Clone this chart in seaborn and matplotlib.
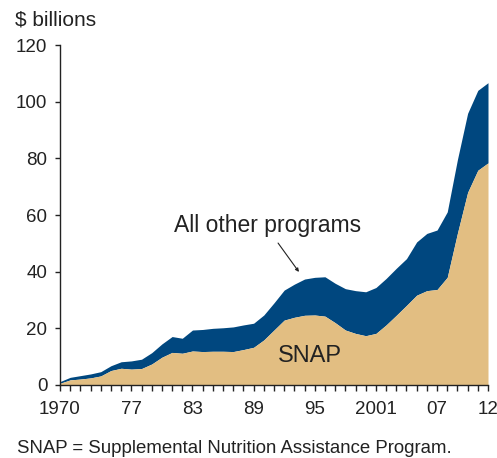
import matplotlib
matplotlib.use("Agg")
import matplotlib.pyplot as plt
import seaborn as sns
import pandas as pd
import numpy as np

# ---- data ($ billions, fiscal years) ----
years = list(range(1970, 2013))
snap = [0.6, 1.8, 2.1, 2.5, 3.2, 5.1, 5.9, 5.6, 5.8, 7.4,
        9.8, 11.5, 11.2, 12.0, 11.8, 11.9, 11.9, 11.8, 12.5, 13.3,
        15.9, 19.4, 22.9, 23.9, 24.6, 24.7, 24.3, 22.0, 19.4, 18.2,
        17.4, 18.2, 21.2, 24.6, 28.1, 31.7, 33.3, 33.7, 38.0, 53.6,
        68.0, 75.8, 78.4]
total = [1.2, 2.7, 3.3, 3.9, 4.7, 6.8, 8.2, 8.5, 9.1, 11.4,
         14.5, 17.1, 16.5, 19.4, 19.6, 20.0, 20.2, 20.5, 21.2, 21.8,
         24.7, 29.0, 33.5, 35.6, 37.4, 38.0, 38.2, 35.9, 34.0, 33.3,
         32.9, 34.4, 37.6, 41.2, 44.6, 50.5, 53.5, 54.7, 61.1, 79.6,
         95.9, 104.0, 106.7]
tick_years = [1970, 1977, 1983, 1989, 1995, 2001, 2007, 2012]
tick_labels = ["1970", "77", "83", "89", "95", "2001", "07", "12"]

df = pd.DataFrame({"year": years, "SNAP": snap, "Total": total})

sns.set_theme(style="ticks")
plt.rcParams["font.family"] = ["Liberation Sans", "DejaVu Sans"]

tan = "#E2BE82"
blue = "#00477F"
ink = "#222222"

fig = plt.figure(figsize=(4.97, 4.58), dpi=100)
ax = fig.add_axes([0.1207, 0.1594, 0.8612, 0.7423])

# stacked areas: SNAP at the bottom, all other programs on top
ax.fill_between(df["year"], df["SNAP"], df["Total"], color=blue, lw=0)
ax.fill_between(df["year"], 0, df["SNAP"], color=tan, lw=0)

ax.set_xlim(1970, 2012)
ax.set_ylim(0, 120)
ax.set_yticks([0, 20, 40, 60, 80, 100, 120])
ax.set_xticks(tick_years)
ax.set_xticklabels(tick_labels)
ax.set_xticks(years, minor=True)
ax.tick_params(axis="both", which="both", direction="out", color=ink,
               labelsize=13.5, labelcolor=ink, width=1)
ax.tick_params(axis="x", which="both", length=4.3, pad=7)
ax.tick_params(axis="y", length=3.6, pad=5.5)
sns.despine(ax=ax)
for s in ["left", "bottom"]:
    ax.spines[s].set_color(ink)
    ax.spines[s].set_linewidth(1)
ax.set_xlabel("")
ax.set_ylabel("")

# labels
ax.text(1994.55, 8.0, "SNAP", fontsize=17, color=ink,
        ha="center", va="baseline")
ax.text(1990.4, 54.1, "All other programs", fontsize=16.5, color=ink,
        ha="center", va="baseline")
ax.annotate("", xy=(1993.45, 39.9), xytext=(1991.4, 50.1),
            arrowprops=dict(arrowstyle="-|>", color=ink, lw=0.8,
                            mutation_scale=5, shrinkA=0, shrinkB=0))

fig.text(0.03, 0.9454, "$ billions", fontsize=15, color=ink,
         ha="left", va="baseline")
fig.text(0.034, 0.011, "SNAP = Supplemental Nutrition Assistance Program.",
         fontsize=13.4, color=ink, ha="left", va="baseline")

fig.savefig("out.png", dpi=100)
